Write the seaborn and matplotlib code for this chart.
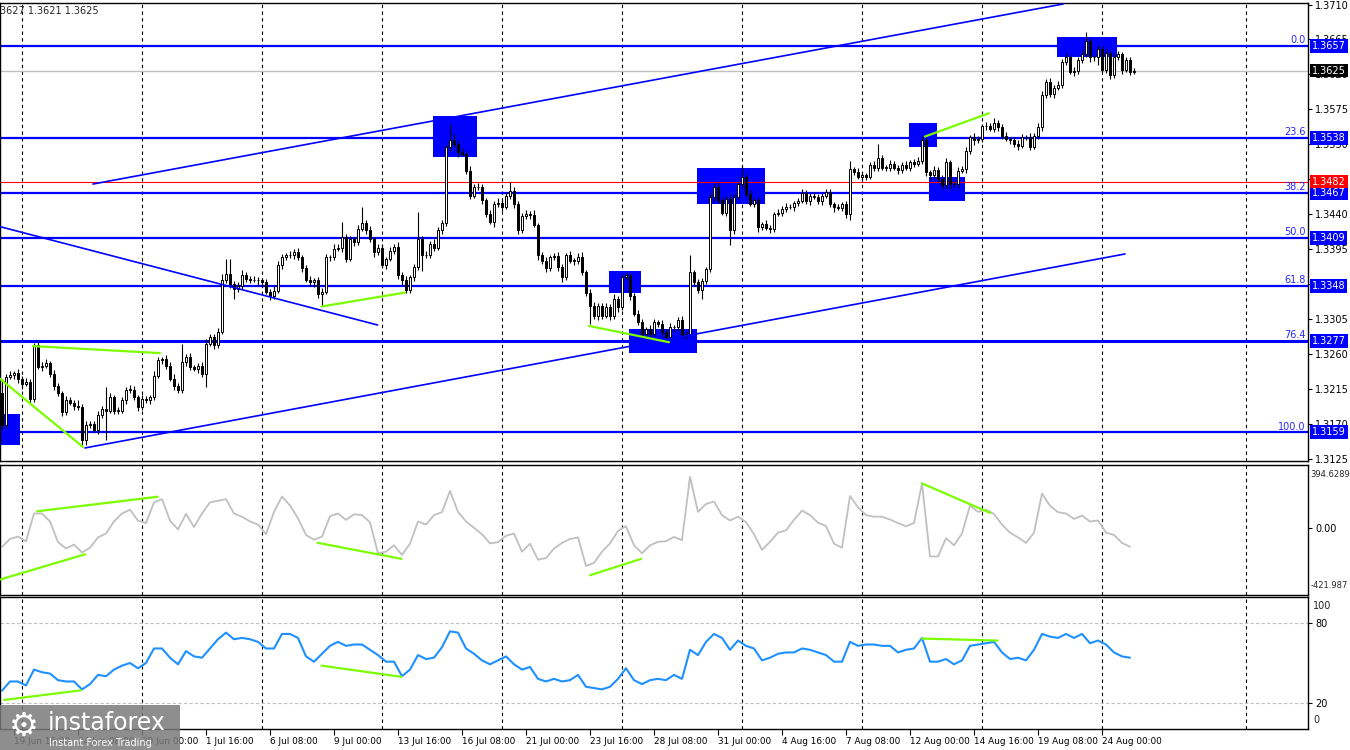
import numpy as np
import pandas as pd
import seaborn as sns
import matplotlib.pyplot as plt
import matplotlib.transforms as mtransforms
from matplotlib.patches import Rectangle

# H4 closes, pips above 1.3000 (one value per bar)
close_pips = [
    168, 230, 233, 235, 227, 221, 224, 202, 271, 243,
    245, 248, 234, 219, 209, 185, 200, 197, 193, 192,
    149, 169, 170, 162, 181, 189, 187, 204, 187, 187,
    200, 214, 214, 204, 192, 202, 200, 204, 232, 252,
    253, 245, 228, 219, 213, 250, 256, 243, 241, 244,
    234, 273, 282, 271, 288, 355, 363, 350, 344, 347,
    362, 357, 355, 355, 355, 352, 340, 335, 341, 374,
    385, 387, 388, 391, 385, 370, 355, 352, 355, 337,
    340, 385, 385, 395, 397, 410, 382, 408, 404, 421,
    428, 419, 408, 391, 397, 374, 382, 393, 398, 361,
    355, 342, 359, 372, 408, 387, 388, 402, 397, 419,
    428, 526, 535, 530, 520, 518, 496, 464, 475, 475,
    458, 440, 430, 453, 455, 449, 464, 470, 453, 419,
    438, 440, 439, 426, 387, 380, 370, 385, 386, 372,
    359, 387, 380, 380, 385, 365, 339, 322, 309, 322,
    309, 320, 309, 331, 320, 359, 361, 335, 312, 301,
    286, 292, 286, 301, 299, 288, 282, 294, 294, 304,
    284, 286, 365, 352, 342, 354, 369, 462, 475, 458,
    442, 460, 419, 462, 479, 488, 466, 453, 458, 423,
    427, 422, 421, 440, 442, 447, 449, 449, 454, 457,
    467, 457, 464, 462, 457, 464, 468, 453, 449, 448,
    453, 440, 498, 494, 488, 490, 488, 503, 500, 512,
    500, 500, 505, 500, 497, 503, 500, 507, 505, 509,
    536, 494, 490, 497, 485, 477, 507, 479, 479, 496,
    498, 521, 539, 535, 537, 553, 554, 550, 558, 552,
    541, 537, 535, 530, 528, 539, 539, 527, 541, 552,
    593, 610, 595, 603, 607, 636, 642, 623, 624, 638,
    646, 663, 642, 642, 653, 626, 647, 619, 642, 646,
    626, 638, 623, 625,
]
first_open = 209

# upper / lower shadow lengths in pips
up_wick = [
    19, 4, 5, 3, 6, 4, 5, 3, 3, 5,
    4, 6, 3, 5, 4, 3, 6, 4, 3, 7,
    4, 5, 3, 4, 6, 4, 28, 5, 3, 4,
    5, 3, 6, 4, 3, 5, 4, 3, 6, 4,
    3, 5, 4, 6, 3, 23, 4, 5, 3, 4,
    5, 6, 4, 3, 5, 8, 19, 19, 4, 5,
    6, 4, 3, 5, 4, 3, 5, 4, 6, 5,
    4, 3, 5, 4, 6, 3, 4, 5, 3, 4,
    5, 4, 3, 6, 4, 20, 5, 4, 3, 5,
    21, 4, 6, 3, 5, 4, 3, 5, 4, 6,
    4, 5, 3, 4, 35, 4, 5, 3, 6, 4,
    5, 3, 21, 8, 4, 5, 3, 6, 4, 5,
    4, 3, 5, 4, 6, 3, 4, 11, 5, 4,
    3, 5, 4, 6, 3, 4, 5, 3, 4, 5,
    4, 3, 6, 4, 5, 6, 3, 4, 5, 4,
    3, 5, 4, 6, 3, 4, 5, 3, 4, 5,
    4, 3, 5, 4, 3, 5, 4, 6, 3, 4,
    5, 4, 22, 3, 5, 4, 3, 5, 4, 6,
    4, 3, 5, 4, 3, 14, 4, 5, 3, 4,
    3, 5, 4, 3, 4, 3, 5, 4, 3, 4,
    5, 4, 3, 5, 4, 3, 4, 5, 3, 4,
    3, 4, 11, 3, 5, 4, 3, 4, 5, 18,
    4, 3, 5, 4, 3, 4, 5, 3, 4, 5,
    5, 4, 3, 5, 4, 6, 5, 3, 4, 5,
    4, 6, 3, 5, 4, 3, 5, 4, 6, 3,
    4, 5, 3, 4, 5, 4, 3, 5, 4, 6,
    5, 4, 6, 3, 5, 4, 6, 3, 5, 4,
    5, 11, 4, 3, 5, 4, 6, 3, 5, 4,
    3, 5, 4, 3,
]
dn_wick = [
    5, 4, 3, 5, 4, 6, 3, 5, 4, 3,
    5, 3, 4, 6, 3, 5, 4, 3, 5, 4,
    6, 7, 4, 3, 5, 4, 38, 3, 5, 4,
    3, 5, 4, 3, 6, 4, 3, 5, 4, 3,
    5, 4, 3, 6, 4, 3, 5, 4, 3, 5,
    4, 17, 3, 5, 4, 3, 4, 5, 13, 4,
    3, 5, 4, 3, 6, 4, 3, 5, 4, 3,
    5, 4, 3, 6, 4, 5, 3, 4, 6, 5,
    15, 3, 5, 4, 3, 6, 4, 3, 5, 4,
    3, 5, 4, 6, 3, 4, 5, 3, 4, 5,
    6, 4, 3, 5, 4, 20, 3, 5, 4, 3,
    4, 3, 5, 4, 6, 3, 4, 5, 3, 4,
    5, 4, 3, 6, 4, 5, 3, 4, 5, 4,
    3, 4, 5, 3, 6, 4, 5, 3, 4, 5,
    6, 4, 3, 5, 4, 3, 5, 23, 4, 5,
    4, 3, 5, 4, 6, 3, 4, 5, 3, 4,
    6, 4, 5, 3, 4, 5, 3, 4, 6, 3,
    4, 5, 3, 4, 3, 11, 4, 3, 5, 4,
    3, 5, 19, 4, 3, 5, 4, 3, 4, 6,
    4, 3, 5, 4, 3, 5, 4, 3, 5, 4,
    3, 4, 5, 3, 4, 5, 3, 4, 6, 3,
    4, 5, 7, 4, 3, 5, 4, 3, 5, 4,
    3, 5, 4, 3, 5, 4, 3, 5, 4, 3,
    4, 5, 6, 3, 4, 5, 3, 6, 4, 5,
    3, 5, 4, 6, 3, 4, 5, 3, 4, 5,
    4, 3, 5, 4, 6, 3, 4, 5, 3, 4,
    5, 3, 4, 6, 3, 5, 4, 3, 5, 4,
    3, 4, 6, 5, 10, 3, 4, 5, 3, 4,
    5, 3, 4, 3,
]

# CCI and RSI read every second bar
cci_vals = [
    -120, -70, -55, -85, 90, 90, 40, -90, -130, -105,
    -155, -125, -60, -36, 40, 90, 114, 45, 30, 160,
    180, 45, -10, 87, 5, 90, 160, 170, 180, 90,
    70, 40, 20, -40, 100, 197, 140, 60, -45, -75,
    -55, 73, 90, 50, 85, 80, 35, -160, -150, -110,
    -170, -100, 40, 20, 80, 98, 232, 100, 40, 0,
    -40, -98, -90, -50, -36, -150, -100, -200, -190, -130,
    -95, -70, -60, -240, -220, -150, -98, -20, 10, -110,
    -160, -110, -88, -84, -57, -78, 320, 100, 150, 165,
    80, 46, 70, 36, -40, -139, -88, -30, -16, 50,
    108, 80, 32, 12, -100, -125, 200, 129, 80, 70,
    70, 52, 30, 10, 30, 279, -180, -180, -65, -110,
    -36, 140, 100, 114, 87, 20, -30, -60, -95, -30,
    215, 139, 98, 90, 56, 77, 40, 46, -30, -45,
    -95, -119,
]
rsi_vals = [
    29, 36, 36, 33, 45, 43, 42, 37, 36, 36,
    30, 34, 41, 40, 45, 48, 50, 46, 50, 61,
    61, 54, 49, 59, 55, 54, 61, 68, 73, 68,
    69, 68, 66, 61, 61, 72, 72, 69, 55, 51,
    57, 63, 66, 63, 64, 64, 60, 56, 51, 51,
    40, 45, 56, 53, 54, 62, 74, 73, 61, 57,
    52, 49, 52, 55, 49, 45, 47, 38, 36, 38,
    36, 37, 41, 32, 31, 30, 32, 38, 46, 37,
    34, 37, 38, 37, 41, 38, 60, 56, 66, 72,
    69, 60, 67, 63, 61, 52, 54, 57, 58, 58,
    61, 60, 58, 56, 51, 51, 66, 63, 64, 64,
    63, 63, 58, 60, 61, 69, 51, 51, 53, 49,
    52, 63, 64, 65, 66, 58, 53, 54, 52, 60,
    72, 70, 69, 72, 69, 72, 65, 67, 64, 58,
    55, 54,
]

fib_levels = [1.3657, 1.3538, 1.3467, 1.3409, 1.3348, 1.3277, 1.3159]
fib_names = ['0.0', '23.6', '38.2', '50.0', '61.8', '76.4', '100.0']
last_price = 1.3625
red_level = 1.3482

# drawn objects: (bar, price) end points
upper_channel = ([22.75, 265.25], [1.34788, 1.37107])
lower_channel = ([20.75, 280.75], [1.31388, 1.33887])
down_line = ([-0.5, 93.9], [1.34239, 1.32972])
price_div = [
    ([-0.5, 20.25], [1.3228, 1.3140]),
    ([7.75, 39.5], [1.3270, 1.3261]),
    ([79.9, 100.75], [1.3321, 1.3339]),
    ([146.75, 166.75], [1.3296, 1.3275]),
    ([230.75, 246.75], [1.3540, 1.3570]),
]
cci_div = [
    ([-0.5, 20.8], [-325, -166]),
    ([8.8, 38.9], [104, 195]),
    ([78.9, 99.9], [-94, -195]),
    ([147, 159.8], [-298, -195]),
    ([230, 247], [279, 94]),
]
rsi_div = [
    ([0.5, 19.7], [22, 29.3]),
    ([79.9, 99.9], [48, 39.5]),
    ([230, 248.9], [68.5, 67]),
]
box_x0 = [-0.5, 107.7, 151.7, 156.8, 173.75, 226.75, 231.75, 263.75]
box_x1 = [4.5, 118.7, 159.7, 173.7, 190.75, 233.67, 240.75, 278.67]
box_lo = [1.3142, 1.3513, 1.3338, 1.3261, 1.3453, 1.3526, 1.34566, 1.3642]
box_hi = [1.3183, 1.3566, 1.3367, 1.32915, 1.3500, 1.3557, 1.34875, 1.36677]

date_bars = [3, 19, 35, 51, 67, 83, 99, 115, 131, 147, 163, 179, 195, 211, 227, 243, 259, 275]
date_labels = ['19 Jun 16:00', '24 Jun 08:00', '29 Jun 00:00', '1 Jul 16:00', '6 Jul 08:00',
               '9 Jul 00:00', '13 Jul 16:00', '16 Jul 08:00', '21 Jul 00:00', '23 Jul 16:00',
               '28 Jul 08:00', '31 Jul 00:00', '4 Aug 16:00', '7 Aug 08:00', '12 Aug 00:00',
               '14 Aug 16:00', '19 Aug 08:00', '24 Aug 00:00']
grid_bars = [5, 35, 65, 95, 125, 155, 185, 215, 245, 275, 311]
price_ticks = [1.3125, 1.3170, 1.3215, 1.3260, 1.3305, 1.3350, 1.3395, 1.3440,
               1.3485, 1.3530, 1.3575, 1.3620, 1.3665, 1.3710]

sns.set_style('white', {'axes.edgecolor': 'black'})
plt.rcParams['font.family'] = ['DejaVu Sans']

# candles
closes = np.array(close_pips) / 10000 + 1.3
opens = np.array([first_open] + close_pips[:-1]) / 10000 + 1.3
highs = np.maximum(opens, closes) + np.array(up_wick) / 10000
lows = np.minimum(opens, closes) - np.array(dn_wick) / 10000
bars = np.arange(len(closes))
bull = closes >= opens
body_lo = np.minimum(opens, closes)
body_h = np.maximum(np.abs(closes - opens), 0.00003)

W, H = 1350, 750
fig = plt.figure(figsize=(13.5, 7.5), dpi=100)
ax1 = fig.add_axes([0, (H - 461) / H, 1308 / W, 458 / H])
ax2 = fig.add_axes([0, (H - 595) / H, 1308 / W, 130 / H])
ax3 = fig.add_axes([0, (H - 729) / H, 1308 / W, 132 / H])
xlim = (-0.5, 326.5)

for ax in (ax1, ax2, ax3):
    ax.set_xlim(*xlim)
    for gb in grid_bars:
        ax.axvline(gb, color='black', lw=0.8, ls=(0, (3, 3)), zorder=0)
    ax.yaxis.tick_right()
    ax.tick_params(axis='y', labelsize=7, length=3, pad=2, colors='black', direction='out')
    for s in ax.spines.values():
        s.set_color('black')
        s.set_linewidth(1)

# price panel
for x0, x1, lo, hi in zip(box_x0, box_x1, box_lo, box_hi):
    ax1.add_patch(Rectangle((x0, lo), x1 - x0, hi - lo, color='#0000FF', lw=0, zorder=1))
for lvl in fib_levels:
    ax1.axhline(lvl, color='#0000FF', lw=2.2 if lvl == 1.3277 else 1.6, zorder=2)
ax1.axhline(last_price, color='#C0C0C0', lw=1, zorder=2)
ax1.axhline(red_level, color='red', lw=0.8, zorder=2)
ax1.vlines(bars, lows, highs, color='black', lw=0.8, zorder=3)
ax1.bar(bars[bull], body_h[bull], bottom=body_lo[bull], width=0.62,
        color='white', edgecolor='black', linewidth=0.7, zorder=4)
ax1.bar(bars[~bull], body_h[~bull], bottom=body_lo[~bull], width=0.62,
        color='black', edgecolor='black', linewidth=0.7, zorder=4)
for xs, ys in (upper_channel, lower_channel, down_line):
    ax1.plot(xs, ys, color='#0000FF', lw=1.2, zorder=5)
for xs, ys in price_div:
    ax1.plot(xs, ys, color='#7CFC00', lw=1.6, zorder=5)
ax1.set_ylim(1.3122, 1.3712)
ax1.set_yticks(price_ticks)
ax1.set_yticklabels([f'{t:.4f}' for t in price_ticks])
ax1.tick_params(axis='x', bottom=False, labelbottom=False)

tr1 = mtransforms.blended_transform_factory(ax1.transAxes, ax1.transData)
for lvl, name in zip(fib_levels, fib_names):
    ax1.text(0.998, lvl + 0.0001, name, transform=tr1, ha='right', va='bottom',
             fontsize=7, color='#2828FF', zorder=6)
    ax1.text(1.003, lvl, f'{lvl:.4f}', transform=tr1, ha='left', va='center', fontsize=7,
             color='white', clip_on=False, zorder=10,
             bbox=dict(facecolor='#0000FF', edgecolor='none', boxstyle='square,pad=0.2'))
ax1.text(1.003, last_price, f'{last_price:.4f}', transform=tr1, ha='left', va='center',
         fontsize=7, color='white', clip_on=False, zorder=10,
         bbox=dict(facecolor='black', edgecolor='none', boxstyle='square,pad=0.2'))
ax1.text(1.003, red_level, f'{red_level:.4f}', transform=tr1, ha='left', va='center',
         fontsize=7, color='white', clip_on=False, zorder=10,
         bbox=dict(facecolor='red', edgecolor='none', boxstyle='square,pad=0.2'))

# CCI panel
ind = pd.DataFrame({'bar': np.arange(0, len(cci_vals) * 2, 2), 'cci': cci_vals, 'rsi': rsi_vals})
sns.lineplot(data=ind, x='bar', y='cci', ax=ax2, color='#C0C0C0', lw=1.3, zorder=3)
for xs, ys in cci_div:
    ax2.plot(xs, ys, color='#7CFC00', lw=1.6, zorder=5)
ax2.set_ylim(-421.9874, 394.6289)
ax2.set_yticks([0])
ax2.set_yticklabels(['0.00'])
ax2.text(1.002, 0.965, '394.6289', transform=ax2.transAxes, ha='left', va='top',
         fontsize=6, clip_on=False)
ax2.text(1.002, 0.035, '-421.987', transform=ax2.transAxes, ha='left', va='bottom',
         fontsize=6, clip_on=False)
ax2.tick_params(axis='x', bottom=False, labelbottom=False)
ax2.set_xlabel('')
ax2.set_ylabel('')

# RSI panel
sns.lineplot(data=ind, x='bar', y='rsi', ax=ax3, color='#1E90FF', lw=1.5, zorder=3)
for xs, ys in rsi_div:
    ax3.plot(xs, ys, color='#7CFC00', lw=1.6, zorder=5)
for lvl in (80, 20):
    ax3.axhline(lvl, color='#C0C0C0', lw=0.8, ls=(0, (3, 2)), zorder=1)
ax3.set_ylim(0, 100)
ax3.set_yticks([80, 20])
ax3.set_yticklabels(['80', '20'])
ax3.text(1.004, 0.97, '100', transform=ax3.transAxes, ha='left', va='top',
         fontsize=7, clip_on=False)
ax3.text(1.004, 0.03, '0', transform=ax3.transAxes, ha='left', va='bottom',
         fontsize=7, clip_on=False)
ax3.set_xticks(date_bars)
ax3.set_xticklabels(date_labels, ha='left', fontsize=6.4)
ax3.tick_params(axis='x', bottom=True, length=4, pad=2, direction='out', colors='black')
ax3.set_xlabel('')
ax3.set_ylabel('')

fig.text(0.0, 1 - 11 / H, '3627 1.3621 1.3625', fontsize=7, va='center', ha='left')

# watermark
fig.add_artist(Rectangle((0, 0), 180 / W, 45 / H, transform=fig.transFigure,
                         facecolor='#7a7a7a', edgecolor='none', alpha=0.85, zorder=20))
fig.text(24 / W, 1 - 726 / H, '\u2699', fontsize=24, color='white', ha='center', va='center', zorder=21)
fig.text(48 / W, 1 - 723 / H, 'instaforex', fontsize=17, color='white', ha='left', va='center', zorder=21)
fig.text(49 / W, 1 - 743 / H, 'Instant Forex Trading', fontsize=7, color='white', ha='left',
         va='center', zorder=21)

fig.savefig('out.png', dpi=100)
